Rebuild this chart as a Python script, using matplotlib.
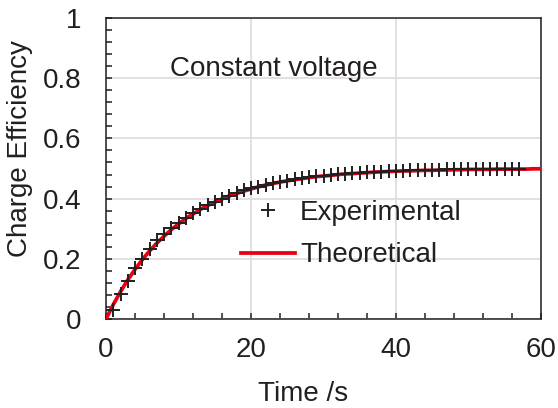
import matplotlib
matplotlib.use("Agg")
import matplotlib.pyplot as plt
from matplotlib.ticker import MultipleLocator

plt.rcParams['font.family'] = ['Liberation Sans', 'DejaVu Sans']

# Experimental points (time in s, charge efficiency)
exp_t = list(range(1, 58))
exp_eff = [0.030, 0.082, 0.128, 0.168, 0.201, 0.234, 0.262, 0.284, 0.304, 0.320,
           0.337, 0.351, 0.365, 0.378, 0.390, 0.400, 0.410, 0.418, 0.427, 0.434,
           0.440, 0.446, 0.451, 0.456, 0.460, 0.464, 0.467, 0.471, 0.474, 0.476,
           0.478, 0.481, 0.483, 0.485, 0.486, 0.488, 0.489, 0.490, 0.491, 0.492,
           0.493, 0.494, 0.494, 0.495, 0.496, 0.496, 0.497, 0.497, 0.498, 0.498,
           0.498, 0.499, 0.499, 0.499, 0.500, 0.500, 0.500]

# Theoretical curve
theo_t = list(range(0, 61))
theo_eff = [0.000, 0.048, 0.091, 0.130, 0.165, 0.197, 0.226, 0.252, 0.275, 0.297,
            0.316, 0.334, 0.349, 0.364, 0.377, 0.388, 0.399, 0.409, 0.417, 0.425,
            0.432, 0.439, 0.445, 0.450, 0.455, 0.459, 0.463, 0.466, 0.470, 0.473,
            0.475, 0.477, 0.480, 0.482, 0.483, 0.485, 0.486, 0.488, 0.489, 0.490,
            0.491, 0.492, 0.492, 0.493, 0.494, 0.494, 0.495, 0.495, 0.496, 0.496,
            0.497, 0.497, 0.497, 0.497, 0.498, 0.498, 0.498, 0.498, 0.498, 0.499,
            0.499]

ink = '#231f20'
red = '#e60012'
fs = 20

fig = plt.figure(figsize=(5.58, 4.08), dpi=100)
ax = fig.add_axes([0.19, 0.218, 0.7795, 0.738])

ax.plot(theo_t, theo_eff, color=red, lw=2.7, label='Theoretical', zorder=3)
ax.plot(exp_t, exp_eff, ls='none', marker='+', ms=10, mew=1.4, color=ink,
        label='Experimental', zorder=4)

ax.set_xlim(0, 60)
ax.set_ylim(0, 1)
ax.xaxis.set_major_locator(MultipleLocator(20))
ax.xaxis.set_minor_locator(MultipleLocator(4))
ax.yaxis.set_major_locator(MultipleLocator(0.2))
ax.yaxis.set_minor_locator(MultipleLocator(0.04))
ax.yaxis.set_major_formatter(plt.FuncFormatter(lambda v, p: f'{v:g}'))

ax.grid(True, which='major', color='#dcdcdc', lw=1.2, zorder=0)
ax.set_axisbelow(True)
for s in ax.spines.values():
    s.set_color(ink)
    s.set_linewidth(1.1)

ax.tick_params(which='both', direction='in', length=4, width=1.1, color=ink,
               labelsize=fs, labelcolor=ink)
ax.tick_params(axis='y', which='both', pad=18)
ax.tick_params(axis='x', which='both', pad=13)

ax.set_xlabel('Time /s', fontsize=fs, color=ink)
ax.set_ylabel('Charge Efficiency', fontsize=fs, color=ink)
ax.xaxis.set_label_coords(0.453, -0.206)
ax.yaxis.set_label_coords(-0.168, 0.565)

ax.text(8.8, 0.83, 'Constant voltage', fontsize=fs, color=ink, va='center')

h, l = ax.get_legend_handles_labels()
leg = ax.legend(h[::-1], l[::-1], loc='upper left', bbox_to_anchor=(0.31, 0.395),
                frameon=False, fontsize=fs, handlelength=1.95, handletextpad=0.18,
                labelspacing=0.58, borderpad=0, borderaxespad=0)
for t in leg.get_texts():
    t.set_color(ink)

fig.savefig('out.png', dpi=100)
